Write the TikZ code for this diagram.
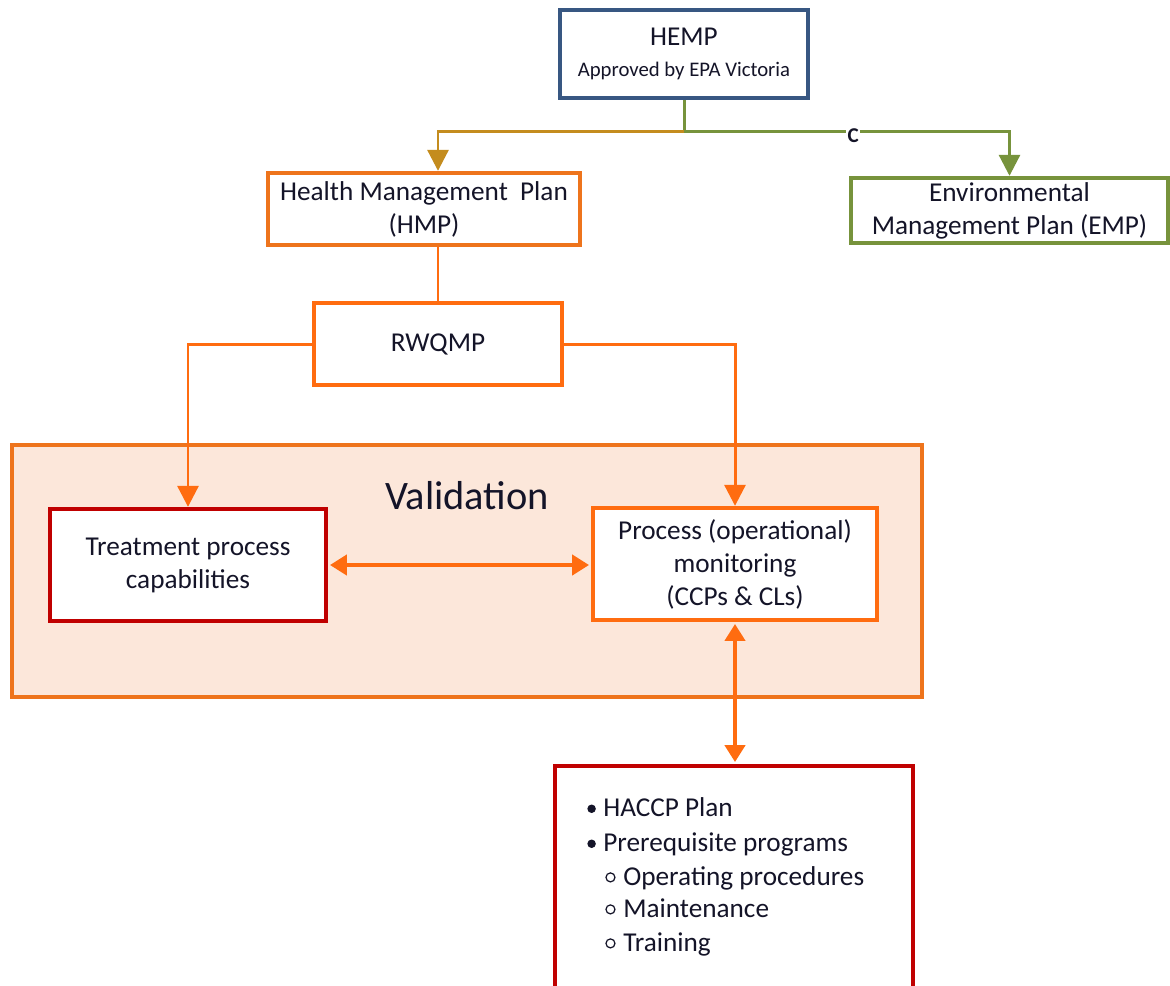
\documentclass[tikz,border=0pt]{standalone}
\usepackage{fontspec}
\setmainfont{Carlito}
\usetikzlibrary{arrows.meta,calc}
\definecolor{hempblue}{RGB}{56,87,130}
\definecolor{hmporange}{RGB}{238,116,28}
\definecolor{brightorange}{RGB}{255,108,16}
\definecolor{empgreen}{RGB}{119,147,60}
\definecolor{goldline}{RGB}{196,140,30}
\definecolor{darkred}{RGB}{192,0,0}
\definecolor{peach}{RGB}{252,231,218}
\definecolor{txt}{RGB}{20,20,40}
\newcommand\mybul{\makebox[0.32cm][l]{\raisebox{0.06cm}{\tikz\fill[txt] (0,0) circle (0.085cm);}}}
\newcommand\mysub{\makebox[0.36cm][l]{\raisebox{0.05cm}{\tikz\draw[txt, line width=0.7pt] (0,0) circle (0.09cm);}}}
\begin{document}
\begin{tikzpicture}[x=0.02cm,y=-0.02cm,
  box/.style={draw, line width=2.5pt, fill=white, align=center, inner sep=0pt, text=txt,
    font=\fontsize{15.5pt}{18.8pt}\selectfont},
  valbox/.style={draw=hmporange, line width=2.5pt, fill=peach, inner sep=0pt},
  listline/.style={anchor=base west, inner sep=0pt, text=txt, font=\fontsize{15.5pt}{18.8pt}\selectfont},
  tip/.style={-{Triangle[length=0.42cm,width=0.42cm]}},
  dtip/.style={{Triangle[length=0.34cm,width=0.4cm]}-{Triangle[length=0.34cm,width=0.4cm]}, shorten <=1pt, shorten >=1pt},
  conn/.style={line width=1.7pt},
  heavy/.style={line width=2.6pt}
]
\clip (0,0) rectangle (1170,985);
\fill[white] (0,0) rectangle (1170,985);

% validation container
\node[valbox, minimum width=18.2cm, minimum height=5.04cm] (val) at (467,571) {};
\node[text=txt, font=\fontsize{23pt}{27pt}\selectfont] (valtitle) at (467,496) {Validation};

% boxes
\node[box, draw=hempblue, minimum width=4.96cm, minimum height=1.76cm] (hemp) at (684,54)
  {HEMP\\[-1pt]{\fontsize{11.8pt}{14pt}\selectfont Approved by EPA Victoria}};
\node[box, draw=hmporange, minimum width=6.24cm, minimum height=1.44cm] (hmp) at (424,209)
  {Health Management\ \ Plan\\(HMP)};
\node[box, draw=empgreen, minimum width=6.34cm, minimum height=1.30cm] (emp) at (1009.5,210.5)
  {Environmental\\Management Plan (EMP)};
\node[box, draw=brightorange, minimum width=4.96cm, minimum height=1.64cm] (rwqmp) at (438,344)
  {RWQMP};
\node[box, draw=darkred, minimum width=5.52cm, minimum height=2.24cm] (treat) at (188,565)
  {Treatment process\\capabilities};
\node[box, draw=brightorange, minimum width=5.68cm, minimum height=2.24cm] (proc) at (735,564)
  {Process (operational)\\monitoring\\(CCPs \& CLs)};
\node[box, draw=darkred, minimum width=7.16cm, minimum height=5cm] (haccp) at (734,891) {};

% list inside HACCP box
\node[listline] (l1) at (587,816) {\mybul HACCP Plan};
\node[listline] (l2) at (587,851) {\mybul Prerequisite programs};
\node[listline] (l3) at (605,885) {\mysub Operating procedures};
\node[listline] (l4) at (605,917) {\mysub Maintenance};
\node[listline] (l5) at (605,951) {\mysub Training};

% connectors
\coordinate (j) at (684,131);
\draw[conn, empgreen] (hemp.south) -- (j);
\draw[conn, goldline, tip] (j) -| (hmp.north -| rwqmp.north);
\draw[conn, empgreen, tip] (j) -- node[pos=0.52, fill=white, inner sep=0.8pt, yshift=-0.1cm,
    text=txt, font=\bfseries\fontsize{12pt}{12pt}\selectfont] (clab) {C}
  (j -| emp.north) -- (emp.north);
\draw[conn, brightorange] (hmp.south -| rwqmp.north) -- (rwqmp.north);
\draw[conn, brightorange, tip] (rwqmp.west) -| (treat.north);
\draw[conn, brightorange, tip] (rwqmp.east) -| (proc.north);
\draw[heavy, brightorange, dtip] (treat.east) -- (treat.east -| proc.west);
\draw[heavy, brightorange, dtip] (proc.south) -- (proc.south |- haccp.north);
\end{tikzpicture}
\end{document}
